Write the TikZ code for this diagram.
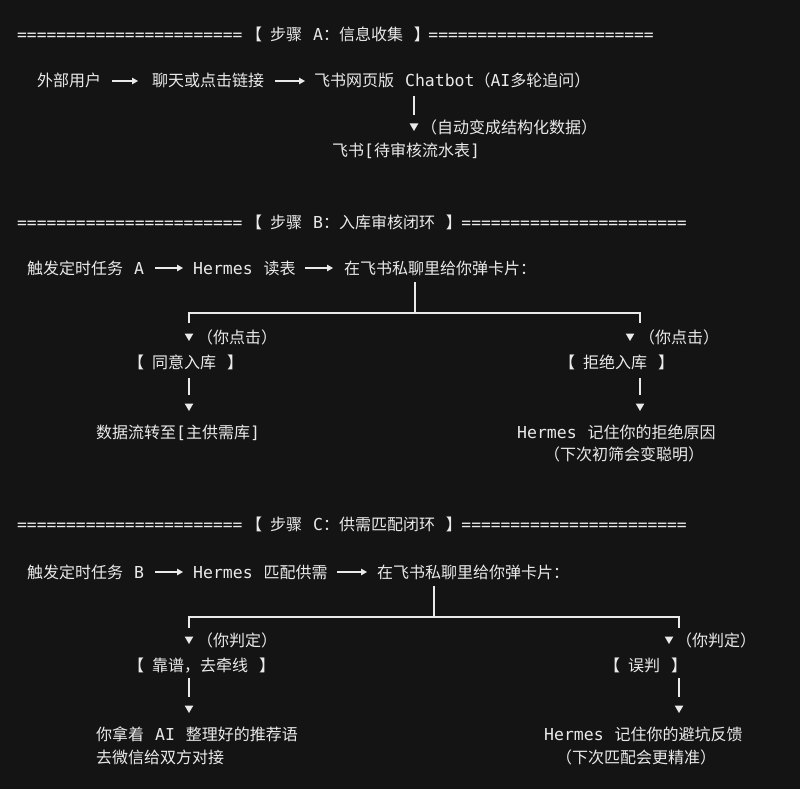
\documentclass[tikz,border=0pt]{standalone}
\usepackage{fontspec}
\setmonofont{DejaVu Sans Mono}[Scale=1.03,WordSpace=1.1]
\newfontfamily\zhfont{Noto Sans CJK SC}
\newcommand{\zh}[1]{{\zhfont #1}}
\newcommand{\lb}{\zh{【}\kern8pt}
\usepackage{tikz}
\usetikzlibrary{arrows.meta, shapes.geometric, positioning, calc}
\definecolor{bg}{HTML}{141414}
\definecolor{fg}{HTML}{EAEAEA}
\tikzset{
  txt/.style={text=fg, inner sep=0pt, text height=13pt, text depth=1pt, anchor=west,
    font=\ttfamily\fontsize{16}{19}\selectfont},
  eqline/.style={txt, font=\ttfamily\fontsize{15.8}{19}\selectfont},
  flow/.style={draw=fg, line width=1.1pt, -{Triangle[length=6pt,width=6.5pt]}},
  vline/.style={draw=fg, line width=1.3pt},
  tip/.style={regular polygon, regular polygon sides=3, shape border rotate=180,
    fill=fg, inner sep=0pt, minimum size=10pt},
}
\newcommand{\eqs}{=======================}

\begin{document}
\begin{tikzpicture}[x=1pt, y=-1pt]
    \fill[bg] (0,0) rectangle (800,789);

    % step A
    \node[eqline] (eqA1) at (17,35) {\eqs};
    \node[txt] (titleA) at (246,35) {\lb\zh{步骤} A\zh{：信息收集} \zh{】}};
    \node[eqline, anchor=east] (eqA2) at (654,35) {\eqs};

    \node[txt] (user) at (37,81) {\zh{外部用户}};
    \node[txt] (click) at (152,81) {\zh{聊天或点击链接}};
    \node[txt] (bot) at (314,81) {\zh{飞书网页版} Chatbot\zh{（}AI\zh{多轮追问）}};
    \node[tip] (tipA) at (414,126) {};
    \node[txt] (auto) at (421,127) {\zh{（自动变成结构化数据）}};
    \node[txt] (table) at (332,151) {\zh{飞书}[\zh{待审核流水表}]};

    \draw[flow, shorten <=11pt, shorten >=14pt] (user) -- (click);
    \draw[flow, shorten <=11pt, shorten >=9pt] (click) -- (bot);
    \draw[vline, shorten <=15pt, shorten >=8.5pt] (bot.center -| tipA) -- (tipA);

    % step B
    \node[eqline] (eqB1) at (17,222) {\eqs};
    \node[txt] (titleB) at (246,222) {\lb\zh{步骤} B\zh{：入库审核闭环} \zh{】}};
    \node[eqline, anchor=east] (eqB2) at (687,222) {\eqs};

    \node[txt] (taskA) at (27,268) {\zh{触发定时任务} A};
    \node[txt] (readB) at (193,268) {Hermes \zh{读表}};
    \node[txt] (cardB) at (344,268) {\zh{在飞书私聊里给你弹卡片：}};
    \coordinate (splitB) at (415,313);
    \coordinate (forkBl) at (189,323);
    \coordinate (forkBr) at (640,323);
    \node[tip] (tipBl) at (189,336) {};
    \node[tip] (tipBr) at (630,336) {};
    \node[txt] (clickBl) at (197,337) {\zh{（你点击）}};
    \node[txt] (clickBr) at (639,337) {\zh{（你点击）}};
    \node[txt] (acceptB) at (128,362) {\lb\zh{同意入库} \zh{】}};
    \node[txt] (rejectB) at (559,362) {\lb\zh{拒绝入库} \zh{】}};
    \node[tip] (tipBl2) at (189,406) {};
    \node[tip] (tipBr2) at (640,406) {};
    \node[txt] (poolB) at (96,432) {\zh{数据流转至}[\zh{主供需库}]};
    \node[txt] (learnB1) at (517,432) {Hermes \zh{记住你的拒绝原因}};
    \node[txt] (learnB2) at (544,454) {\zh{（下次初筛会变聪明）}};

    \draw[flow, shorten <=11pt, shorten >=10pt] (taskA) -- (readB);
    \draw[flow, shorten <=9pt, shorten >=11pt] (readB) -- (cardB);
    \draw[vline, shorten <=14pt] (cardB.center -| splitB) -- (splitB);
    \draw[vline] (forkBl) |- (splitB) -| (forkBr);
    \draw[vline, shorten <=16pt, shorten >=8.5pt] (acceptB.center -| tipBl2) -- (tipBl2);
    \draw[vline, shorten <=16pt, shorten >=8.5pt] (rejectB.center -| tipBr2) -- (tipBr2);

    % step C
    \node[eqline] (eqC1) at (17,524) {\eqs};
    \node[txt] (titleC) at (246,524) {\lb\zh{步骤} C\zh{：供需匹配闭环} \zh{】}};
    \node[eqline, anchor=east] (eqC2) at (687,524) {\eqs};

    \node[txt] (taskB) at (27,572) {\zh{触发定时任务} B};
    \node[txt] (matchC) at (193,572) {Hermes \zh{匹配供需}};
    \node[txt] (cardC) at (377,572) {\zh{在飞书私聊里给你弹卡片：}};
    \coordinate (splitC) at (434,617);
    \coordinate (forkCl) at (189,628);
    \coordinate (forkCr) at (679,628);
    \node[tip] (tipCl) at (189,639) {};
    \node[tip] (tipCr) at (669,639) {};
    \node[txt] (judgeCl) at (197,640) {\zh{（你判定）}};
    \node[txt] (judgeCr) at (676,640) {\zh{（你判定）}};
    \node[txt] (goodC) at (128,665) {\lb\zh{靠谱，去牵线} \zh{】}};
    \node[txt] (wrongC) at (604,665) {\lb\zh{误判} \zh{】}};
    \node[tip] (tipCl2) at (189,708) {};
    \node[tip] (tipCr2) at (679,708) {};
    \node[txt] (wechatC1) at (96,734) {\zh{你拿着} AI \zh{整理好的推荐语}};
    \node[txt] (wechatC2) at (96,757) {\zh{去微信给双方对接}};
    \node[txt] (learnC1) at (544,734) {Hermes \zh{记住你的避坑反馈}};
    \node[txt] (learnC2) at (556,757) {\zh{（下次匹配会更精准）}};

    \draw[flow, shorten <=11pt, shorten >=10pt] (taskB) -- (matchC);
    \draw[flow, shorten <=9pt, shorten >=10pt] (matchC) -- (cardC);
    \draw[vline, shorten <=14pt] (cardC.center -| splitC) -- (splitC);
    \draw[vline] (forkCl) |- (splitC) -| (forkCr);
    \draw[vline, shorten <=13pt, shorten >=8.5pt] (goodC.center -| tipCl2) -- (tipCl2);
    \draw[vline, shorten <=13pt, shorten >=8.5pt] (wrongC.center -| tipCr2) -- (tipCr2);
\end{tikzpicture}
\end{document}
